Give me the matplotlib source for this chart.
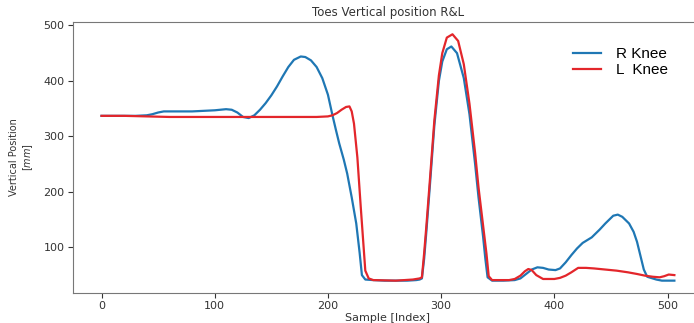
import matplotlib
matplotlib.use("Agg")
import matplotlib.pyplot as plt

# R Knee (blue)
r_x = [0, 10, 20, 30, 40, 45, 50, 55, 60, 70, 80, 90, 100, 105, 110, 115, 120, 125, 130,
       135, 140, 145, 150, 155, 160, 165, 170, 176, 180, 185, 190, 195, 200, 204, 207, 210,
       214, 217, 221, 225, 228, 230, 233, 240, 250, 260, 270, 278, 281, 283, 285, 287, 290,
       294, 298, 301, 305, 309, 314, 320, 325, 330, 333, 337, 339, 341, 345, 355, 365, 370,
       375, 380, 385, 390, 395, 401, 405, 410, 415, 420, 425, 433, 440, 445, 452, 456, 460,
       466, 470, 473, 476, 479, 482, 490, 495, 500, 506]
r_y = [337, 337, 337, 337, 338, 340, 343, 345, 345, 345, 345, 346, 347, 348, 349, 348, 343,
       335, 333, 338, 348, 360, 374, 390, 408, 425, 438, 444, 443, 437, 425, 405, 375, 338,
       312, 287, 258, 233, 190, 143, 90, 50, 42, 41, 40, 40, 40, 41, 42, 44, 80, 130, 210,
       320, 400, 435, 457, 462, 450, 405, 340, 250, 190, 120, 80, 46, 40, 40, 41, 44, 52, 60,
       64, 63, 60, 59, 62, 73, 86, 98, 108, 118, 132, 143, 157, 159, 155, 143, 128, 110, 85,
       60, 47, 42, 40, 40, 40]

# L Knee (red)
l_x = [0, 20, 40, 60, 100, 150, 190, 200, 204, 208, 212, 216, 219, 221, 223, 226, 229,
       233, 236, 240, 260, 275, 281, 283, 285, 287, 290, 294, 298, 301, 305, 310, 315, 320,
       325, 330, 333, 337, 340, 342, 345, 360, 365, 370, 374, 377, 380, 384, 390, 400, 405,
       410, 415, 421, 428, 435, 445, 455, 465, 473, 480, 487, 493, 497, 501, 506]
l_y = [337, 337, 336, 335, 335, 335, 335, 336, 338, 342, 348, 353, 354, 345, 323, 262, 172,
       58, 44, 41, 40, 42, 44, 46, 90, 140, 220, 329, 410, 450, 478, 484, 472, 430, 359, 270,
       208, 140, 89, 48, 41, 41, 43, 49, 57, 61, 59, 50, 43, 43, 45, 49, 55, 63, 63, 62, 60,
       58, 55, 52, 49, 47, 46, 48, 51, 50]

fig = plt.figure(figsize=(6.94, 3.23), dpi=100)
ax = fig.add_axes([0.105, 0.093, 0.908, 0.839])

ax.plot(r_x, r_y, color='#1f77b4', lw=1.6, label='R Knee')
ax.plot(l_x, l_y, color='#e3262b', lw=1.6, label='L  Knee')

ax.set_title("Toes Vertical position R&L", fontsize=8.5, color='#333333', pad=4)
ax.set_xlabel("Sample [Index]", fontsize=8, color='#333333', labelpad=1)
ax.set_ylabel("Vertical Position\n[$mm$]", fontsize=7, color='#333333',
              family=['Liberation Sans Narrow', 'DejaVu Sans'], labelpad=6)
ax.set_yticks([100, 200, 300, 400, 500])
ax.tick_params(labelsize=8, colors='#333333', pad=2.5)
for s in ['left', 'bottom', 'top']:
    ax.spines[s].set_color('#777777')
ax.spines['right'].set_visible(False)

leg = fig.legend(loc='upper left', bbox_to_anchor=(573 / 694, 1 - 47 / 323),
                 frameon=False, borderpad=0, borderaxespad=0,
                 prop={'family': 'Liberation Sans', 'size': 11},
                 handlelength=1.8, handletextpad=1.0, labelspacing=0.15)

fig.savefig("out.png", dpi=100)
